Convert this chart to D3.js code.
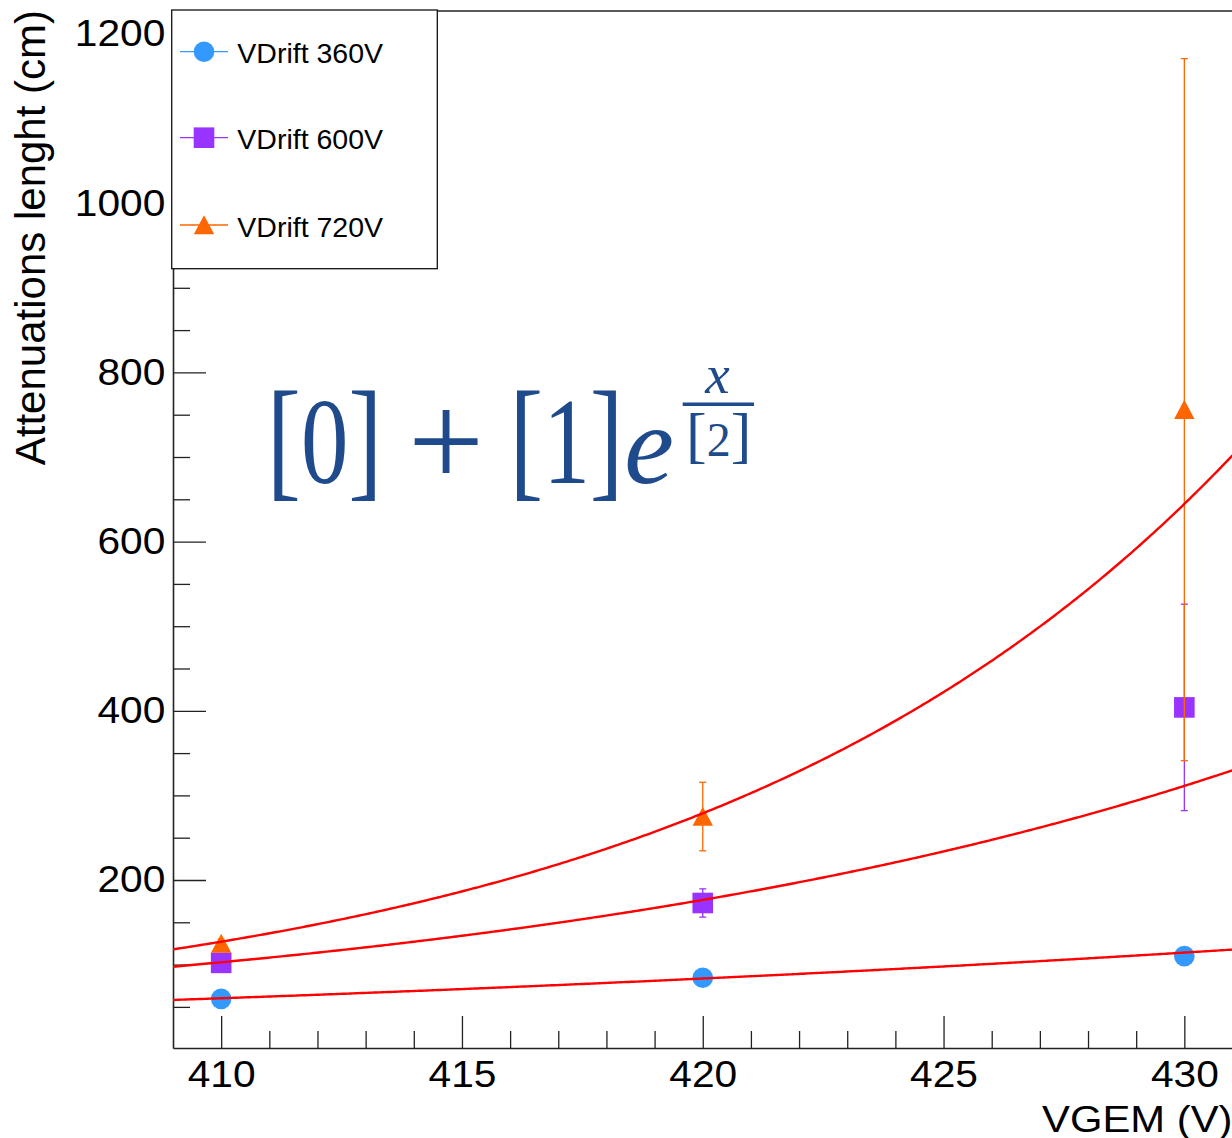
<!DOCTYPE html>
<html>
<head>
<meta charset="utf-8">
<script src="https://cdn.jsdelivr.net/npm/d3@7"></script>
<style>
  body { margin: 0; background: #fff; }
  svg { display: block; }
</style>
</head>
<body>
<svg id="chart" width="1232" height="1138"></svg>
<script>
// ---- data -------------------------------------------------------------
const vgem = [410, 420, 430];                       // VGEM (V)
const seriesNames = ["VDrift 360V", "VDrift 600V", "VDrift 720V"];
const att360 = [59.5, 84.5, 110];                   // attenuation length (cm)
const err360 = [1.5, 2, 3];
const att600 = [102, 172.8, 404];
const err600 = [4, 16.7, 122];
const att720 = [125, 275, 756];
const err720 = [5, 40.5, 415];
// fit parameters [0], [1], [2] of  [0] + [1]*exp(x/[2])
const fit360 = [-13.72, 9.721e-4, 36.48];
const fit600 = [13.67, 1.6225e-9, 16.58];
const fit720 = [19.47, 2.3262e-14, 11.3667];
const xTicks = [410, 415, 420, 425, 430];
const yTicks = [200, 400, 600, 800, 1000, 1200];

// ---- layout -----------------------------------------------------------
const svg = d3.select("#chart");
const frameL = 173, frameR = 1232.5, frameT = 11, frameB = 1048;
const x = d3.scaleLinear().domain([409, 431]).range([frameL, frameR]);
const y = d3.scaleLinear().domain([1.4, 1227.2]).range([frameB, frameT]);
const sans = "'Liberation Sans', Arial, Helvetica, sans-serif";

svg.append("rect").attr("width", 1232).attr("height", 1138).attr("fill", "#fff");

svg.append("defs").append("clipPath").attr("id", "plotClip")
  .append("rect").attr("x", frameL).attr("y", frameT)
  .attr("width", frameR - frameL).attr("height", frameB - frameT);

// ---- axes -------------------------------------------------------------
const xMinor = d3.range(410, 431, 1).filter(v => v % 5 !== 0);
const yMinor = d3.range(50, 1227, 50).filter(v => v % 200 !== 0);

function styleAxis(g) {
  g.select(".domain").attr("stroke", "#222").attr("stroke-width", 1.6);
  g.selectAll(".tick line").attr("stroke", "#222").attr("stroke-width", 1.3);
  g.selectAll(".tick text").attr("fill", "#000")
    .attr("font-family", sans).attr("font-size", 37)
    .attr("transform", "scale(1.1,1)");
}

svg.append("g").attr("transform", `translate(0,${frameB})`)
  .call(d3.axisBottom(x).tickValues(xMinor).tickSizeInner(-17).tickSizeOuter(0).tickFormat(""))
  .call(g => g.select(".domain").remove())
  .call(g => g.selectAll(".tick line").attr("stroke", "#222").attr("stroke-width", 1.3));

svg.append("g").attr("transform", `translate(${frameL},0)`)
  .call(d3.axisLeft(y).tickValues(yMinor).tickSizeInner(-17).tickSizeOuter(0).tickFormat(""))
  .call(g => g.select(".domain").remove())
  .call(g => g.selectAll(".tick line").attr("stroke", "#222").attr("stroke-width", 1.3));

svg.append("g").attr("transform", `translate(0,${frameB})`)
  .call(d3.axisBottom(x).tickValues(xTicks).tickSizeInner(-32).tickSizeOuter(0).tickPadding(13)
    .tickFormat(d3.format("d")))
  .call(styleAxis);

svg.append("g").attr("transform", `translate(${frameL},0)`)
  .call(d3.axisLeft(y).tickValues(yTicks).tickSizeInner(-33).tickSizeOuter(0).tickPadding(7)
    .tickFormat(d3.format("d")))
  .call(styleAxis);

// top edge of the frame
svg.append("line")
  .attr("x1", x(409)).attr("x2", x(431)).attr("y1", frameT).attr("y2", frameT)
  .attr("stroke", "#222").attr("stroke-width", 1.6);

// axis titles
svg.append("text")
  .attr("transform", `translate(${frameR},1131.7) scale(1.13,1)`)
  .attr("text-anchor", "end").attr("font-family", sans).attr("font-size", 37)
  .text("VGEM (V)");

svg.append("text")
  .attr("transform", "translate(45,10) rotate(-90)")
  .attr("text-anchor", "end").attr("font-family", sans).attr("font-size", 42)
  .text("Attenuations lenght (cm)");

// ---- graphs -----------------------------------------------------------
const series = [
  { name: seriesNames[0], vals: att360, errs: err360, fit: fit360, color: "#3399ff", marker: "circle" },
  { name: seriesNames[1], vals: att600, errs: err600, fit: fit600, color: "#9933ff", marker: "square" },
  { name: seriesNames[2], vals: att720, errs: err720, fit: fit720, color: "#ff6600", marker: "triangle" }
];

function drawMarker(g, kind, cx, cy, color) {
  if (kind === "circle") {
    g.append("circle").attr("cx", cx).attr("cy", cy).attr("r", 10.3).attr("fill", color);
  } else if (kind === "square") {
    g.append("rect").attr("x", cx - 10.3).attr("y", cy - 10.3)
      .attr("width", 20.6).attr("height", 20.6).attr("fill", color);
  } else {
    g.append("path")
      .attr("d", `M${cx - 10.2},${cy + 9.3}L${cx + 10.2},${cy + 9.3}L${cx},${cy - 9.8}Z`)
      .attr("fill", color);
  }
}

const plot = svg.append("g").attr("clip-path", "url(#plotClip)");

series.forEach(s => {
  const g = plot.append("g");
  vgem.forEach((xv, i) => {
    const cx = x(xv), v = s.vals[i], e = s.errs[i];
    const y1 = y(v - e), y2 = y(v + e);
    g.append("line").attr("x1", cx).attr("x2", cx).attr("y1", y1).attr("y2", y2)
      .attr("stroke", s.color).attr("stroke-width", 1.3);
    [y1, y2].forEach(yy => g.append("line")
      .attr("x1", cx - 3.5).attr("x2", cx + 3.5).attr("y1", yy).attr("y2", yy)
      .attr("stroke", s.color).attr("stroke-width", 1.3));
    drawMarker(g, s.marker, cx, y(v), s.color);
  });
});

// fitted curves [0] + [1]*exp(x/[2])
const xs = d3.range(0, 401).map(i => 409 + 22 * i / 400);
const fitLine = d3.line().x(d => x(d[0])).y(d => y(d[1]));
series.forEach(s => {
  const [p0, p1, p2] = s.fit;
  plot.append("path")
    .datum(xs.map(xv => [xv, p0 + p1 * Math.exp(xv / p2)]))
    .attr("d", fitLine).attr("fill", "none")
    .attr("stroke", "#ff0000").attr("stroke-width", 2.4);
});

// ---- formula label: [0] + [1] e^{x/[2]} -------------------------------
const fml = svg.append("g").attr("fill", "#1f4a8b")
  .attr("font-family", "'Liberation Serif', 'DejaVu Serif', serif")
  .attr("text-anchor", "middle");

// one text element per group; its runs flow one after another
function mathGroup(runs, cx, by, sx) {
  const t = fml.append("text").attr("transform", `translate(${cx},${by}) scale(${sx},1)`);
  runs.forEach(([s, size, italic]) => t.append("tspan")
    .attr("font-size", size).attr("font-style", italic ? "italic" : "normal").text(s));
}
mathGroup([["[", 133], ["0", 123], ["]", 133]], 324.6, 482.5, 0.77);
mathGroup([["+", 135]], 446, 486.7, 1);
mathGroup([["[", 133], ["1", 123], ["]", 133]], 566.5, 482.5, 0.76);
mathGroup([["e", 112, true]], 649, 483, 1);
mathGroup([["x", 55, true]], 717.5, 393, 1);
fml.append("line").attr("x1", 682.7).attr("x2", 754).attr("y1", 404.3).attr("y2", 404.3)
  .attr("stroke", "#1f4a8b").attr("stroke-width", 3.5);
mathGroup([["[", 62], ["2", 48], ["]", 62]], 718.7, 456, 1);

// ---- legend -----------------------------------------------------------
const leg = svg.append("g");
leg.append("rect").attr("x", 171.7).attr("y", 10).attr("width", 265.6).attr("height", 258.7)
  .attr("fill", "#fff").attr("stroke", "#111").attr("stroke-width", 1.3);
const legY = [51.7, 137.7, 225];
series.forEach((s, i) => {
  const cy = legY[i];
  leg.append("line").attr("x1", 180).attr("x2", 228).attr("y1", cy).attr("y2", cy)
    .attr("stroke", s.color).attr("stroke-width", 1.3);
  drawMarker(leg, s.marker, 204, cy, s.color);
  leg.append("text").attr("x", 237.3).attr("y", cy + 11.6)
    .attr("font-family", sans).attr("font-size", 28.5).text(s.name);
});
</script>
</body>
</html>
